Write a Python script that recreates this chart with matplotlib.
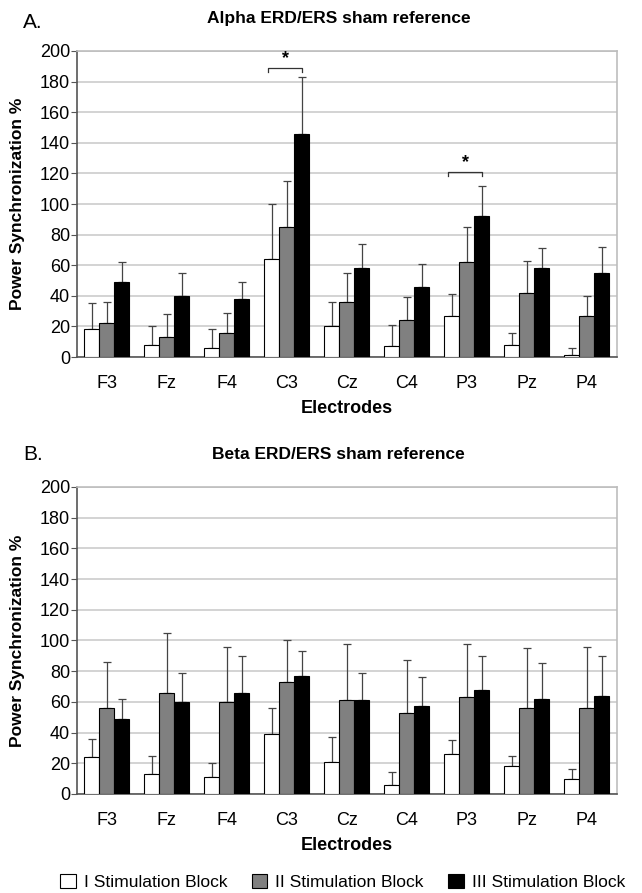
import matplotlib
matplotlib.use("Agg")
import matplotlib.pyplot as plt
import numpy as np
from matplotlib.patches import Patch

plt.rcParams['font.family'] = ['Liberation Sans', 'DejaVu Sans']

electrodes = ["F3", "Fz", "F4", "C3", "Cz", "C4", "P3", "Pz", "P4"]
series_names = ["I Stimulation Block", "II Stimulation Block", "III Stimulation Block"]
yticks = [0, 20, 40, 60, 80, 100, 120, 140, 160, 180, 200]

# Panel A: Alpha (mean, upper error-bar top)
alpha_I = [18, 8, 6, 64, 20, 7, 27, 8, 1]
alpha_I_top = [35, 20, 18, 100, 36, 21, 41, 16, 6]
alpha_II = [22, 13, 16, 85, 36, 24, 62, 42, 27]
alpha_II_top = [36, 28, 29, 115, 55, 39, 85, 63, 40]
alpha_III = [49, 40, 38, 146, 58, 46, 92, 58, 55]
alpha_III_top = [62, 55, 49, 183, 74, 61, 112, 71, 72]

# Panel B: Beta
beta_I = [24, 13, 11, 39, 21, 6, 26, 18, 10]
beta_I_top = [36, 25, 20, 56, 37, 14, 35, 25, 16]
beta_II = [56, 66, 60, 73, 61, 53, 63, 56, 56]
beta_II_top = [86, 105, 96, 100, 98, 87, 98, 95, 96]
beta_III = [49, 60, 66, 77, 61, 57, 68, 62, 64]
beta_III_top = [62, 79, 90, 93, 79, 76, 90, 85, 90]

# significance brackets in panel A
sig_electrodes = ["C3", "P3"]
sig_levels = [189, 121]

colors = ["white", "#808080", "black"]
bw = 0.25

fig = plt.figure(figsize=(6.42, 8.93), dpi=100)
axA = fig.add_axes([0.1199, 0.6002, 0.8411, 0.3427])
axB = fig.add_axes([0.1199, 0.1109, 0.8411, 0.3438])

def draw(ax, means, tops, title, letter, letter_y):
    x = np.arange(len(electrodes))
    for i, (m, t) in enumerate(zip(means, tops)):
        pos = x + (i - 1) * bw
        m = np.array(m); t = np.array(t)
        ax.bar(pos, m, width=bw, color=colors[i], edgecolor="black", linewidth=0.8, zorder=3)
        ax.errorbar(pos, m, yerr=[np.zeros_like(m), t - m], fmt="none",
                    ecolor="#444444", elinewidth=0.9, capsize=3, capthick=0.9, zorder=2)
    ax.set_xlim(-0.5, len(electrodes) - 0.5)
    ax.set_ylim(0, 200)
    ax.set_yticks(yticks)
    ax.set_xticks(x)
    ax.set_xticklabels(electrodes, fontsize=13)
    ax.tick_params(axis='y', labelsize=13, length=4, color="#555555", pad=1)
    ax.tick_params(axis='x', length=0, pad=13)
    ax.yaxis.grid(True, color="#c8c8c8", linewidth=1.1, zorder=0)
    ax.set_axisbelow(True)
    for s in ["top", "right"]:
        ax.spines[s].set_color("#bdbdbd")
        ax.spines[s].set_linewidth(1.2)
    for s in ["left", "bottom"]:
        ax.spines[s].set_color("#555555")
        ax.spines[s].set_linewidth(1.2)
    ax.set_xlabel("Electrodes", fontsize=13, fontweight="bold", labelpad=6)
    ax.set_ylabel("Power Synchronization %", fontsize=12.5, fontweight="bold")
    ax.yaxis.set_label_coords(-0.097, 0.5)
    ax.set_title(title, fontsize=12.5, fontweight="bold", pad=20, x=0.485)
    fig.text(23 / 642, letter_y, letter, fontsize=15, ha="left", va="center")

draw(axA, [alpha_I, alpha_II, alpha_III], [alpha_I_top, alpha_II_top, alpha_III_top],
     "Alpha ERD/ERS sham reference", "A.", 1 - 22 / 893)
draw(axB, [beta_I, beta_II, beta_III], [beta_I_top, beta_II_top, beta_III_top],
     "Beta ERD/ERS sham reference", "B.", 1 - 455 / 893)

for name, lvl in zip(sig_electrodes, sig_levels):
    xi = electrodes.index(name)
    x0, x1 = xi - bw - 0.06, xi + bw
    axA.plot([x0, x0, x1, x1], [lvl - 3, lvl, lvl, lvl - 3], color="#333333", lw=0.9, zorder=4)
    axA.text((x0 + x1) / 2, lvl + 0.5, "*", ha="center", va="bottom", fontsize=13, fontweight="bold")

handles = [Patch(facecolor=c, edgecolor="black", linewidth=0.8) for c in colors]
fig.legend(handles, series_names, loc="center left", bbox_to_anchor=(60 / 642, 1 - 882 / 893), ncol=3,
           frameon=False, fontsize=12.6, handlelength=0.9, handleheight=0.9, borderpad=0,
           borderaxespad=0, handletextpad=0.45, columnspacing=1.4)

fig.savefig("out.png", dpi=100)
